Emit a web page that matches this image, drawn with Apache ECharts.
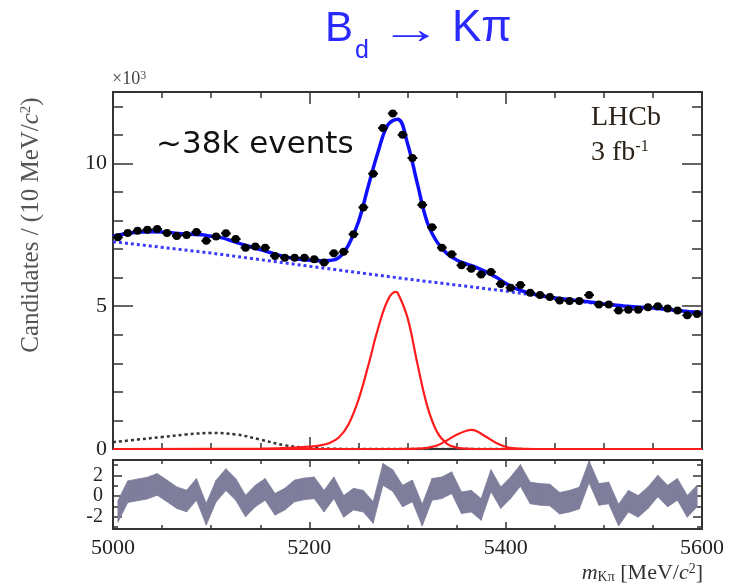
<!DOCTYPE html>
<html>
<head>
<meta charset="utf-8">
<title>Bd → Kπ</title>
<script src="https://cdn.jsdelivr.net/npm/echarts@6/dist/echarts.min.js"></script>
<style>
  html, body { margin: 0; padding: 0; background: #fff; }
  #main { width: 733px; height: 586px; }
</style>
</head>
<body>
<div id="main"></div>
<script>
// 10 MeV bins, candidates in units of 10^3
const binCenters = [
  5005, 5015, 5025, 5035, 5045, 5055, 5065, 5075, 5085, 5095,
  5105, 5115, 5125, 5135, 5145, 5155, 5165, 5175, 5185, 5195,
  5205, 5215, 5225, 5235, 5245, 5255, 5265, 5275, 5285, 5295,
  5305, 5315, 5325, 5335, 5345, 5355, 5365, 5375, 5385, 5395,
  5405, 5415, 5425, 5435, 5445, 5455, 5465, 5475, 5485, 5495,
  5505, 5515, 5525, 5535, 5545, 5555, 5565, 5575, 5585, 5595
]
const counts = [
  7.41, 7.56, 7.64, 7.68, 7.70, 7.56, 7.46, 7.49, 7.60, 7.29,
  7.44, 7.55, 7.35, 7.05, 7.09, 7.05, 6.76, 6.70, 6.70, 6.70,
  6.64, 6.53, 6.85, 6.91, 7.52, 8.46, 9.64, 11.24, 11.75, 11.00,
  10.19, 8.55, 7.76, 7.05, 6.82, 6.43, 6.31, 6.11, 6.20, 5.78,
  5.65, 5.74, 5.47, 5.39, 5.32, 5.20, 5.18, 5.18, 5.39, 5.06,
  5.06, 4.85, 4.88, 4.88, 4.96, 5.00, 4.92, 4.85, 4.68, 4.73
]
const pulls = [
  -1.5, 0.42, 0.6, 0.77, 1.13, 0.5, -0.16, -0.48, 0.65, -1.77,
  0.48, 1.6, 0.65, -0.97, 0, 0.65, -0.8, -0.3, 0.5, 0.7,
  0.8, -0.5, 0.8, -1.0, -0.3, -0.5, -1.6, 2.1, 1.5, 0.0,
  0.5, -1.85, 0.65, 0.8, 1.3, -0.65, -0.5, -1.3, 1.5, -0.16,
  0.8, 2.0, 0.3, 0.16, 0.1, -0.7, -0.5, -0.2, 2.35, 0.16,
  0.3, -1.85, -0.5, -1.0, -0.16, 0.97, 0, 0.65, -1.0, 0
]
const pullHalfWidth = 1.05

// total fit
const fitMass = [
  5000, 5010, 5020, 5030, 5040, 5050, 5060, 5070, 5080, 5090,
  5100, 5110, 5120, 5130, 5140, 5150, 5160, 5170, 5180, 5190,
  5200, 5210, 5220, 5230, 5240, 5250, 5260, 5270, 5280, 5290,
  5300, 5310, 5320, 5330, 5340, 5350, 5360, 5370, 5380, 5390,
  5400, 5410, 5420, 5430, 5440, 5450, 5460, 5470, 5480, 5490,
  5500, 5510, 5520, 5530, 5540, 5550, 5560, 5570, 5580, 5590, 5600
]
const fitTotal = [
  7.45, 7.52, 7.57, 7.60, 7.61, 7.60, 7.57, 7.54, 7.52, 7.50,
  7.45, 7.40, 7.30, 7.18, 7.08, 6.98, 6.88, 6.78, 6.70, 6.64,
  6.61, 6.59, 6.60, 6.70, 7.15, 7.95, 9.20, 10.40, 11.35, 11.55,
  10.70, 9.30, 7.95, 7.25, 6.85, 6.62, 6.48, 6.36, 6.20, 6.02,
  5.80, 5.62, 5.50, 5.41, 5.34, 5.29, 5.25, 5.21, 5.17, 5.13,
  5.08, 5.04, 5.01, 4.98, 4.96, 4.94, 4.91, 4.87, 4.83, 4.80, 4.78
]

// combinatorial background
const combMass = [5000, 5100, 5200, 5300, 5400, 5450, 5500, 5550, 5600]
const combBkg = [7.26, 6.86, 6.40, 5.95, 5.53, 5.28, 5.06, 4.92, 4.77]

// B0 -> K pi signal
const sigMass = [5000, 5150, 5170, 5190, 5200, 5210, 5220, 5230, 5240, 5250, 5260, 5270, 5280, 5288,
  5290, 5300, 5310, 5320, 5330, 5340, 5350, 5360, 5370, 5600]
const sigBd = [0, 0.01, 0.03, 0.06, 0.08, 0.12, 0.20, 0.40, 0.87, 1.72, 2.92, 4.22, 5.22, 5.50,
  5.47, 4.60, 3.00, 1.52, 0.60, 0.19, 0.05, 0.01, 0, 0]

// Bs -> K pi signal
const bsMass = [5000, 5290, 5300, 5310, 5320, 5330, 5340, 5350, 5360, 5365, 5370, 5380, 5390, 5400, 5410, 5420, 5430, 5600]
const sigBs = [0, 0, 0.005, 0.01, 0.04, 0.12, 0.30, 0.50, 0.64, 0.67, 0.63, 0.43, 0.22, 0.08, 0.02, 0.005, 0, 0]

// partially reconstructed background
const partMass = [5000, 5025, 5050, 5075, 5100, 5125, 5150, 5175, 5200, 5225, 5250, 5420]
const partReco = [0.24, 0.33, 0.42, 0.51, 0.56, 0.51, 0.33, 0.13, 0.04, 0.01, 0, 0]

const xTicks = { min: 5000, max: 5600, interval: 200 }
const frame = '#333'
const serif = 'Liberation Serif'
const sans = 'Liberation Sans'
const blueTitle = '#2a2aff'

function pairs(xs, ys) {
  return xs.map((x, i) => [x, ys[i]])
}

function xAxisFor(grid, position, major, minor, labels) {
  return {
    type: 'value',
    gridIndex: grid,
    position: position,
    min: xTicks.min,
    max: xTicks.max,
    interval: xTicks.interval,
    axisLine: { show: true, onZero: false, lineStyle: { color: frame, width: 2 } },
    axisTick: { show: true, inside: true, length: major, lineStyle: { color: frame, width: 1.5 } },
    minorTick: { show: true, splitNumber: 4, length: minor, lineStyle: { color: frame, width: 1.5 } },
    axisLabel: {
      show: labels,
      margin: 8,
      color: '#222',
      fontFamily: serif,
      fontSize: 22,
      formatter: v => String(v)
    },
    splitLine: { show: false },
    minorSplitLine: { show: false }
  }
}

function yAxisFor(grid, position, range, tickOpt, len, labels, line) {
  const ax = {
    type: 'value',
    gridIndex: grid,
    position: position,
    min: range[0],
    max: range[1],
    axisLine: { show: line, onZero: false, lineStyle: { color: frame, width: 2 } },
    axisTick: Object.assign({ show: true, inside: true, length: len, lineStyle: { color: frame, width: 1.5 } }, tickOpt.tick),
    axisLabel: Object.assign({
      show: labels,
      margin: 6,
      color: '#222',
      fontFamily: serif,
      fontSize: 22,
      hideOverlap: false
    }, tickOpt.label),
    splitLine: { show: false }
  }
  if (tickOpt.interval) ax.interval = tickOpt.interval
  return ax
}

const mainRange = [0, 12.5]
const pullRange = [-3.2, 3.5]
const mainMajor = { interval: 5, label: { formatter: v => (v % 5 === 0 ? String(v) : '') } }
const mainMinor = { interval: 1 }
const pullMajor = { tick: { customValues: [-2, 0, 2] }, label: { customValues: [-2, 0, 2], fontSize: 20, margin: 10 } }
const pullMinor = { tick: { customValues: [-3, -1, 1, 3] }, label: { customValues: [-3, -1, 1, 3] } }

function renderPoint(params, api) {
  const m = api.value(0)
  const n = api.value(1)
  const err = Math.sqrt(n * 1000) / 1000
  const c = api.coord([m, n])
  const l = api.coord([m - 5, n])
  const r = api.coord([m + 5, n])
  const t = api.coord([m, n + err])
  const b = api.coord([m, n - err])
  const st = { stroke: '#000', lineWidth: 2 }
  return {
    type: 'group',
    children: [
      { type: 'line', shape: { x1: l[0], y1: c[1], x2: r[0], y2: c[1] }, style: st },
      { type: 'line', shape: { x1: c[0], y1: t[1], x2: c[0], y2: b[1] }, style: st },
      { type: 'circle', shape: { cx: c[0], cy: c[1], r: 4 }, style: { fill: '#000' } }
    ]
  }
}

// one quad of the pull band between two neighbouring bins
function renderBand(params, api) {
  const x0 = api.value(0)
  const c0 = api.value(1)
  const x1 = api.value(2)
  const c1 = api.value(3)
  const pts = [
    api.coord([x0, c0 + pullHalfWidth]),
    api.coord([x1, c1 + pullHalfWidth]),
    api.coord([x1, c1 - pullHalfWidth]),
    api.coord([x0, c0 - pullHalfWidth])
  ]
  return {
    type: 'polygon',
    shape: { points: pts },
    style: { fill: '#7e7d9b', stroke: '#7e7d9b', lineWidth: 0.8 }
  }
}

const bandData = binCenters.slice(0, -1).map((m, i) => [m, pulls[i], binCenters[i + 1], pulls[i + 1]])

const chart = echarts.init(document.getElementById('main'))

const option = {
  animation: false,
  backgroundColor: '#fff',
  grid: [
    { left: 113, right: 31, top: 92, height: 357, outerBoundsMode: 'none' },
    { left: 113, right: 31, top: 460, height: 69, outerBoundsMode: 'none' }
  ],
  xAxis: [
    xAxisFor(0, 'bottom', 12, 6, false),
    xAxisFor(0, 'top', 12, 6, false),
    xAxisFor(1, 'bottom', 7, 4, true),
    xAxisFor(1, 'top', 7, 4, false)
  ],
  yAxis: [
    yAxisFor(0, 'left', mainRange, mainMajor, 20, true, true),
    yAxisFor(0, 'left', mainRange, mainMinor, 10, false, false),
    yAxisFor(0, 'right', mainRange, mainMajor, 20, false, true),
    yAxisFor(0, 'right', mainRange, mainMinor, 10, false, false),
    yAxisFor(1, 'left', pullRange, pullMajor, 9, true, true),
    yAxisFor(1, 'left', pullRange, pullMinor, 5, false, false),
    yAxisFor(1, 'right', pullRange, pullMajor, 9, false, true),
    yAxisFor(1, 'right', pullRange, pullMinor, 5, false, false)
  ],
  series: [
    {
      name: 'partial',
      type: 'line',
      xAxisIndex: 0,
      yAxisIndex: 0,
      data: pairs(partMass, partReco),
      smooth: 0.4,
      showSymbol: false,
      lineStyle: { color: '#333', width: 2.5, type: [3, 3] },
      z: 3
    },
    {
      name: 'Bs',
      type: 'line',
      xAxisIndex: 0,
      yAxisIndex: 0,
      data: pairs(bsMass, sigBs),
      smooth: 0.4,
      showSymbol: false,
      lineStyle: { color: '#ff1c1c', width: 2.2 },
      z: 4
    },
    {
      name: 'Bd',
      type: 'line',
      xAxisIndex: 0,
      yAxisIndex: 0,
      data: pairs(sigMass, sigBd),
      smooth: 0.4,
      showSymbol: false,
      lineStyle: { color: '#ff1c1c', width: 2.2 },
      z: 4
    },
    {
      name: 'comb',
      type: 'line',
      xAxisIndex: 0,
      yAxisIndex: 0,
      data: pairs(combMass, combBkg),
      showSymbol: false,
      lineStyle: { color: '#3a3aff', width: 3, type: [3, 3] },
      z: 5
    },
    {
      name: 'total',
      type: 'line',
      xAxisIndex: 0,
      yAxisIndex: 0,
      data: pairs(fitMass, fitTotal),
      smooth: 0.4,
      showSymbol: false,
      lineStyle: { color: '#1010ff', width: 3.5 },
      z: 6
    },
    {
      name: 'data',
      type: 'custom',
      xAxisIndex: 0,
      yAxisIndex: 0,
      renderItem: renderPoint,
      encode: { x: 0, y: 1 },
      data: pairs(binCenters, counts),
      z: 8
    },
    {
      name: 'pulls',
      type: 'custom',
      xAxisIndex: 2,
      yAxisIndex: 4,
      renderItem: renderBand,
      encode: { x: [0, 2], y: [1, 3] },
      data: bandData,
      clip: true,
      z: 2
    }
  ],
  graphic: [
    { type: 'text', x: 325, y: 29, style: { text: 'B', fontFamily: sans, fontSize: 42, fill: blueTitle, verticalAlign: 'middle' } },
    { type: 'text', x: 355, y: 51, style: { text: 'd', fontFamily: sans, fontSize: 25, fill: blueTitle, verticalAlign: 'middle' } },
    { type: 'text', x: 380, y: 31, scaleX: 1.45, style: { text: '→', fontFamily: sans, fontSize: 42, fill: blueTitle, verticalAlign: 'middle' } },
    { type: 'text', x: 452, y: 29, style: { text: 'Kπ', fontFamily: sans, fontSize: 44, fill: blueTitle, verticalAlign: 'middle' } },
    {
      type: 'text', x: 112, y: 79,
      style: {
        text: '{a|×10}{s|3}',
        rich: {
          a: { fontFamily: serif, fontSize: 18, fill: '#444' },
          s: { fontFamily: serif, fontSize: 12, fill: '#444', verticalAlign: 'top' }
        },
        verticalAlign: 'middle'
      }
    },
    { type: 'text', x: 156, y: 145, style: { text: '~38k events', fontFamily: 'DejaVu Sans', fontSize: 31, fill: '#111', verticalAlign: 'middle' } },
    { type: 'text', x: 591, y: 118, style: { text: 'LHCb', fontFamily: serif, fontSize: 28, fill: '#2a2218', verticalAlign: 'middle' } },
    {
      type: 'text', x: 591, y: 153,
      style: {
        text: '{a|3 fb}{s|-1}',
        rich: {
          a: { fontFamily: serif, fontSize: 28, fill: '#2a2218' },
          s: { fontFamily: serif, fontSize: 16, fill: '#2a2218', verticalAlign: 'top' }
        },
        verticalAlign: 'middle'
      }
    },
    {
      type: 'text', x: 31, y: 225, rotation: Math.PI / 2,
      style: {
        text: '{a|Candidates / (10 MeV/}{i|c}{s|2}{a|)}',
        rich: {
          a: { fontFamily: serif, fontSize: 25, fill: '#555' },
          i: { fontFamily: serif, fontSize: 25, fontStyle: 'italic', fill: '#555' },
          s: { fontFamily: serif, fontSize: 15, fill: '#555', verticalAlign: 'top' }
        },
        align: 'center',
        verticalAlign: 'middle'
      }
    },
    {
      type: 'text', x: 703, y: 573,
      style: {
        text: '{i|m}{u|Kπ}{a| [MeV/}{i|c}{s|2}{a|]}',
        rich: {
          a: { fontFamily: serif, fontSize: 22, fill: '#333' },
          i: { fontFamily: serif, fontSize: 22, fontStyle: 'italic', fill: '#333' },
          u: { fontFamily: serif, fontSize: 14, fill: '#333', verticalAlign: 'bottom' },
          s: { fontFamily: serif, fontSize: 14, fill: '#333', verticalAlign: 'top' }
        },
        align: 'right',
        verticalAlign: 'middle'
      }
    }
  ]
}

chart.setOption(option)
</script>
</body>
</html>
